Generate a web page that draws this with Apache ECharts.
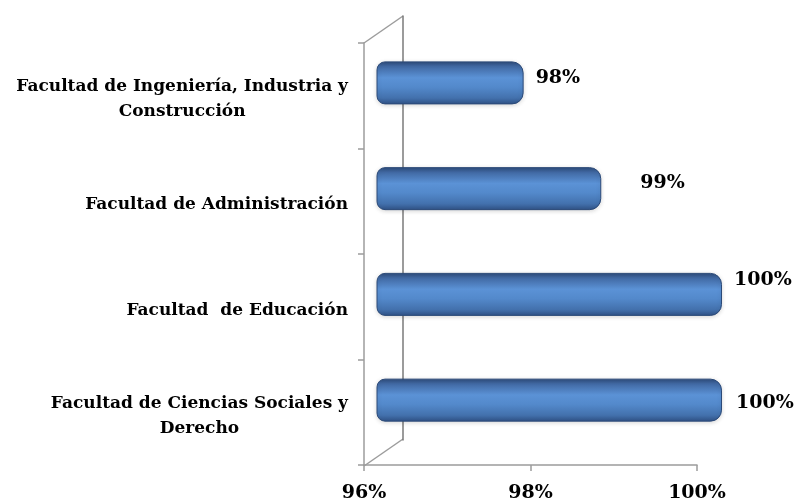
<!DOCTYPE html>
<html>
<head>
<meta charset="utf-8">
<script src="https://cdn.jsdelivr.net/npm/echarts@6/dist/echarts.min.js"></script>
<style>html,body{margin:0;padding:0;background:#fff}#c{width:800px;height:503px}</style>
</head>
<body>
<div id="c"></div>
<script>
// ---- data ----
const categories = [
  'Facultad de Ingeniería, Industria y\nConstrucción',
  'Facultad de Administración',
  'Facultad  de Educación',
  'Facultad de Ciencias Sociales y\nDerecho'
];
const values = [97.7, 98.6, 100, 100];
const axisMin = 96;
const axisMax = 100;
const axisStep = 2;

// ---- layout / style ----
const FONT = 'DejaVu Serif';
const frameColor = '#9c9c9c';
const wallColor = '#7a7a7a';
const X0 = 364, X1 = 697, YT = 43, YB = 466;   // front frame
const DX = 39, DY = 27;                          // depth of the 3D wall
const W = 800, H = 503;
// small nudges of the value labels, as placed in the original picture
const labelNudges = [[0, -5], [27, -6], [0, -14], [2, 3]];

const chart = echarts.init(document.getElementById('c'));

const barGradient = new echarts.graphic.LinearGradient(0, 0, 0, 1, [
  {offset: 0, color: '#2d4a79'},
  {offset: 0.12, color: '#4169a3'},
  {offset: 0.38, color: '#5b92d6'},
  {offset: 0.6, color: '#5389cb'},
  {offset: 0.85, color: '#4371ad'},
  {offset: 1, color: '#2f5185'}
]);

chart.setOption({
  animation: false,
  backgroundColor: '#ffffff',
  grid: [
    {left: X0, right: W - X1, top: YT, bottom: H - YB},
    {left: X0 + DX, right: W - X1 - DX, top: YT - DY, bottom: H - YB + DY - 1},
    {left: 377, right: 78, top: 30, bottom: 50}
  ],
  xAxis: [
    {
      gridIndex: 0, type: 'value', min: axisMin, max: axisMax, interval: axisStep,
      axisLine: {show: true, lineStyle: {color: frameColor, width: 1.5}},
      axisTick: {show: true, length: 6, lineStyle: {color: frameColor, width: 1.5}},
      splitLine: {show: false},
      axisLabel: {
        formatter: v => v + '%', color: '#000', fontFamily: FONT, fontWeight: 'bold',
        fontSize: 19, margin: 19
      }
    },
    {gridIndex: 1, type: 'value', show: false, min: 0, max: 1},
    {gridIndex: 2, type: 'value', show: false, min: axisMin, max: axisMax}
  ],
  yAxis: [
    {
      gridIndex: 0, type: 'category', data: categories, inverse: true,
      axisLine: {show: true, lineStyle: {color: frameColor, width: 1.5}},
      axisTick: {show: true, length: 6, lineStyle: {color: frameColor, width: 1.5}},
      axisLabel: {
        margin: 16, color: '#000', padding: [7, 0, 0, 0],
        formatter: v => v.split('\n').map(l => '{c|' + l + '}').join('\n'),
        rich: {c: {align: 'center', fontFamily: FONT, fontWeight: 'bold', fontSize: 17, lineHeight: 25, color: '#000'}}
      }
    },
    {
      gridIndex: 1, type: 'value', min: 0, max: 1,
      axisLine: {show: true, lineStyle: {color: wallColor, width: 1.5}},
      axisTick: {show: false}, axisLabel: {show: false}, splitLine: {show: false}
    },
    {gridIndex: 2, type: 'category', data: categories, inverse: true, show: false}
  ],
  graphic: [
    {type: 'line', shape: {x1: X0, y1: YT, x2: X0 + DX, y2: YT - DY}, style: {stroke: frameColor, lineWidth: 1.5}},
    {type: 'line', shape: {x1: X0, y1: YB, x2: X0 + DX, y2: YB - DY}, style: {stroke: frameColor, lineWidth: 1.5}}
  ],
  series: [{
    type: 'bar',
    xAxisIndex: 2, yAxisIndex: 2,
    data: values.map((v, i) => ({value: v, label: {offset: labelNudges[i]}})),
    barWidth: 43,
    z: 5,
    itemStyle: {
      color: barGradient,
      borderColor: '#2c4a78', borderWidth: 1,
      borderRadius: [8, 11, 11, 8],
      shadowColor: 'rgba(0,0,0,0.15)', shadowBlur: 4, shadowOffsetY: 1
    },
    label: {
      show: true, position: 'right', distance: 12,
      formatter: p => Math.round(p.value) + '%',
      color: '#000', fontFamily: FONT, fontWeight: 'bold', fontSize: 19
    }
  }]
});
</script>
</body>
</html>
